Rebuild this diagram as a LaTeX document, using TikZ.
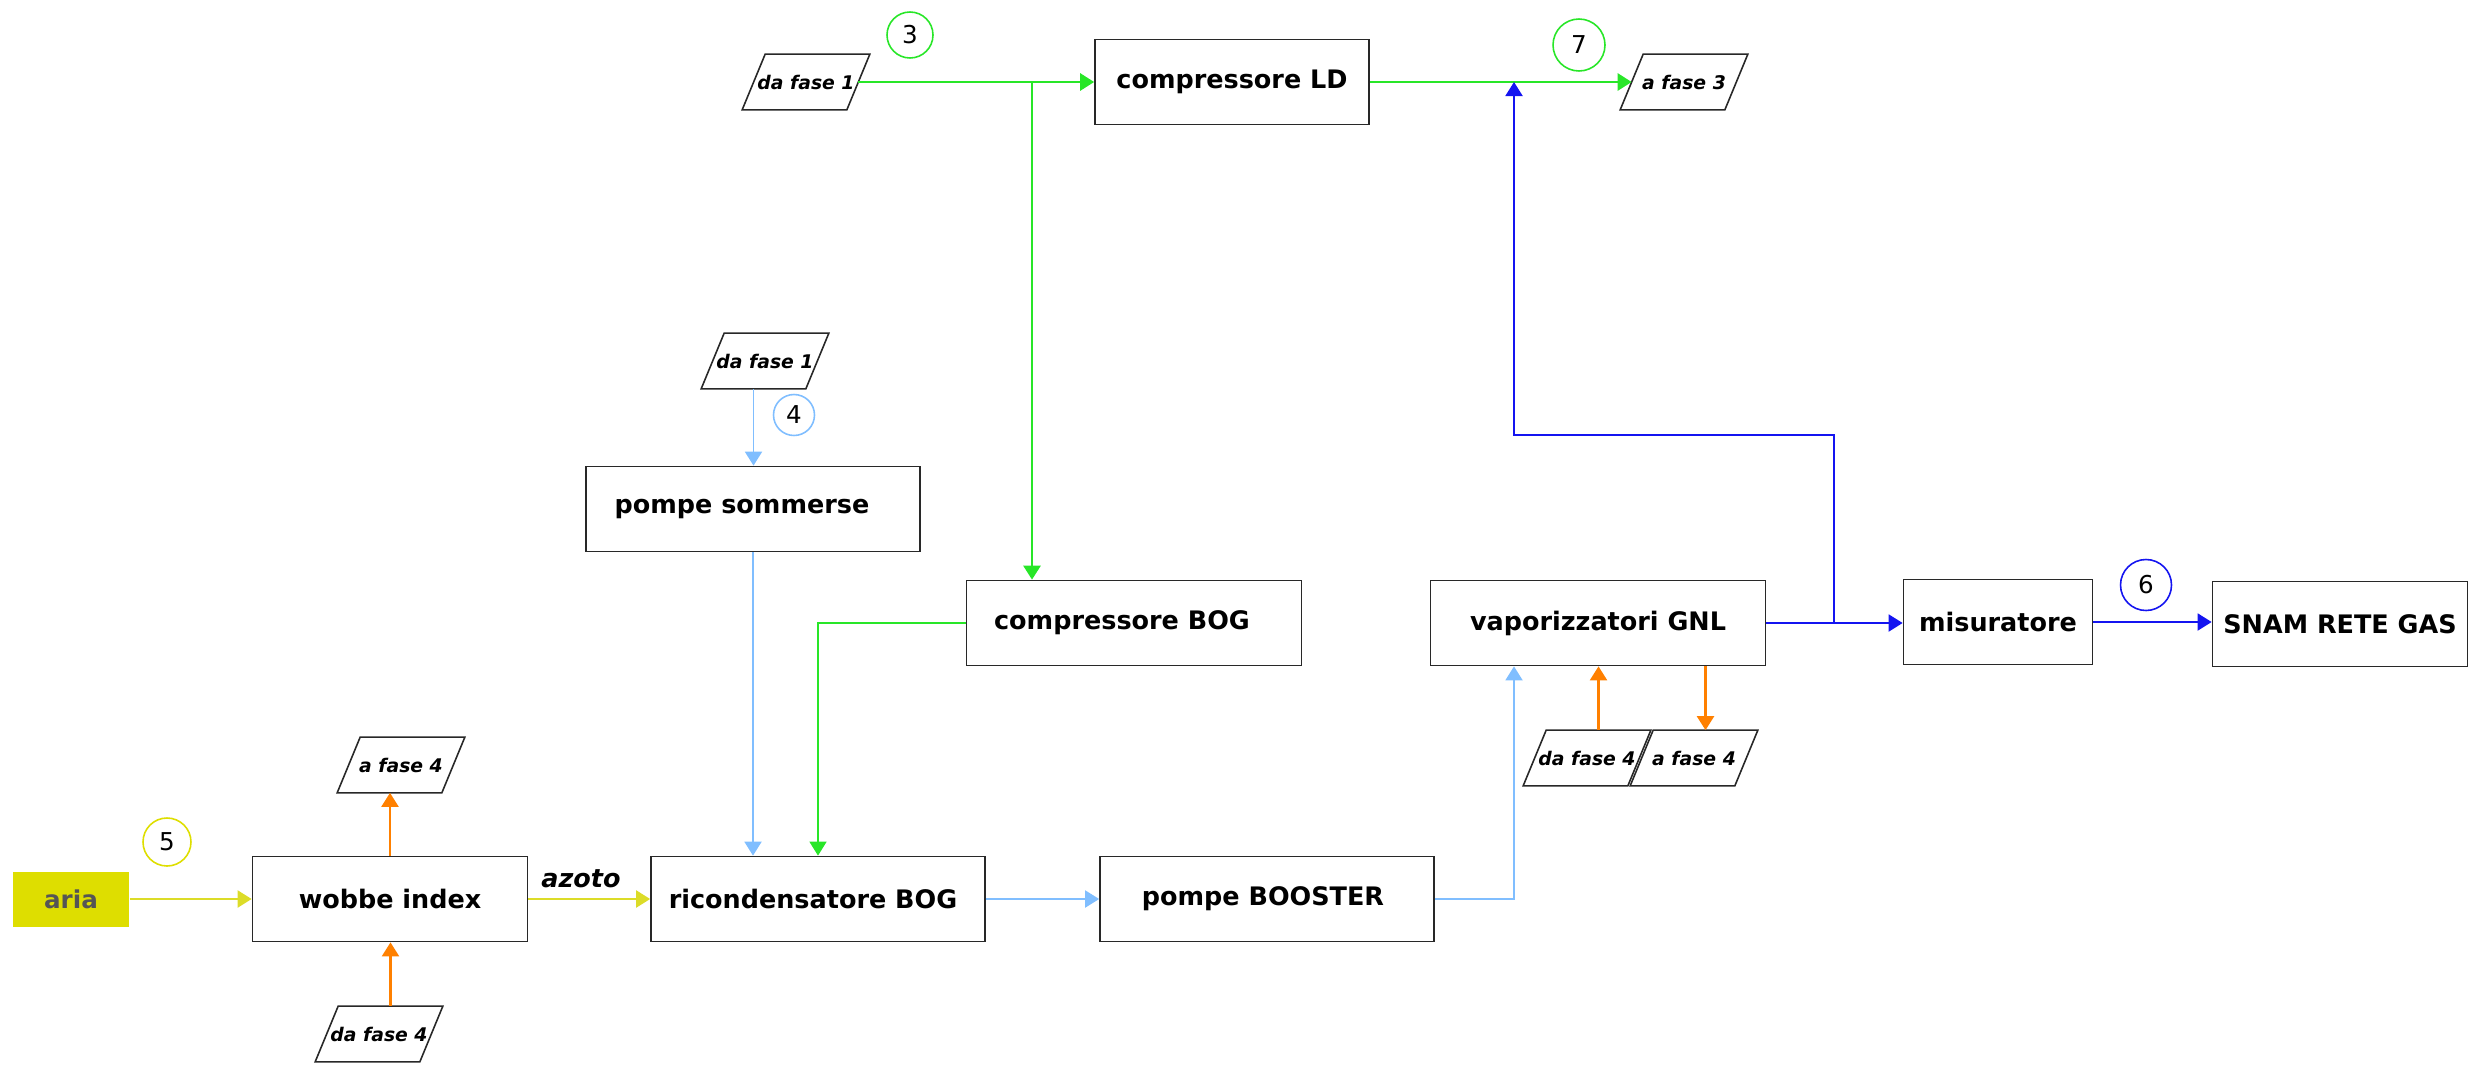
\documentclass[tikz,border=0pt]{standalone}
\usepackage{fontspec}
\setmainfont{DejaVu Sans}
\usetikzlibrary{arrows.meta}
\definecolor{boxc}{RGB}{40,40,40}
\definecolor{lgreen}{RGB}{40,230,40}
\definecolor{lblue}{RGB}{128,190,255}
\definecolor{dblue}{RGB}{20,20,240}
\definecolor{orng}{RGB}{255,128,0}
\definecolor{yel}{RGB}{222,222,0}
\definecolor{yline}{RGB}{220,220,40}
\definecolor{ariatext}{RGB}{85,85,85}
% move a label to the left inside its block by half of the given length
\newcommand{\leftnudge}[2]{\hspace*{-#1}#2}
\begin{document}
\begin{tikzpicture}[x=0.02cm,y=-0.02cm,
  box/.style={draw=boxc, line width=1pt, minimum height=1.7cm, inner sep=0pt,
    font=\bfseries\fontsize{14.5}{17}\selectfont},
  % slanted input/output block: the node is the body, the outline is sheared
  pgram/.style={minimum width=2.08cm, minimum height=1.1cm, inner sep=0pt,
    font=\bfseries\itshape\fontsize{10.7}{12}\selectfont,
    append after command={\pgfextra{\draw[draw=boxc, line width=0.9pt]
      ([xshift=-0.23cm]\tikzlastnode.south west) --
      ([xshift=0.23cm]\tikzlastnode.north west) --
      ([xshift=0.23cm]\tikzlastnode.north east) --
      ([xshift=-0.23cm]\tikzlastnode.south east) -- cycle;}}},
  num/.style={circle, line width=0.9pt, inner sep=0pt,
    font=\fontsize{14}{16}\selectfont},
  tip/.style={-{Triangle[length=0.28cm,width=0.34cm]}},
  gflow/.style={draw=lgreen, line width=1.6pt},
  gthin/.style={draw=lgreen, line width=0.85pt},
  lbflow/.style={draw=lblue, line width=1.1pt},
  bflow/.style={draw=dblue, line width=1.1pt},
  oflow/.style={draw=orng, line width=1.3pt},
  yflow/.style={draw=yline, line width=1.2pt}]
\useasboundingbox (0,0) rectangle (2478,1072);

% process blocks
\node[box, minimum width=5.48cm] (ld)   at (1232,82)  {compressore LD};
\node[box, minimum width=6.68cm] (somm) at (753,509)  {\leftnudge{0.44cm}{pompe sommerse}};
\node[box, minimum width=6.70cm] (cbog) at (1134,623) {\leftnudge{0.48cm}{compressore BOG}};
\node[box, minimum width=6.70cm] (vap)  at (1598,623) {vaporizzatori GNL};
\node[box, minimum width=3.78cm] (mis)  at (1998,622) {misuratore};
\node[box, minimum width=5.10cm] (snam) at (2340,624) {SNAM RETE GAS};
\node[box, minimum width=5.50cm] (wob)  at (390,899)  {wobbe index};
\node[box, minimum width=6.68cm] (ric)  at (818,899)  {\leftnudge{0.2cm}{ricondensatore BOG}};
\node[box, minimum width=6.68cm] (boo)  at (1267,899) {\leftnudge{0.16cm}{pompe BOOSTER}};
\node[fill=yel, minimum width=2.34cm, minimum height=1.1cm, inner sep=0pt,
  text=ariatext, font=\bfseries\fontsize{14}{16}\selectfont] (aria) at (71,899) {aria};

% inputs and outputs of the other phases
\node[pgram] (pa) at (806,82)   {da fase 1};
\node[pgram] (pb) at (1684,82)  {a fase 3};
\node[pgram] (pc) at (765,361)  {da fase 1};
\node[pgram] (pd) at (401,765)  {a fase 4};
\node[pgram] (pe) at (379,1034) {da fase 4};
\node[pgram] (pf) at (1587,758) {da fase 4};
\node[pgram] (pg) at (1694,758) {a fase 4};

% stream numbers
\node[num, draw=lgreen, minimum size=0.92cm] (n3) at (910,35)   {3};
\node[num, draw=lgreen, minimum size=1.04cm] (n7) at (1579,45)  {7};
\node[num, draw=lblue,  minimum size=0.82cm] (n4) at (794,415)  {4};
\node[num, draw=yel,    minimum size=0.96cm] (n5) at (167,842)  {5};
\node[num, draw=dblue,  minimum size=1.02cm] (n6) at (2146,585) {6};

% branch points
\coordinate (gs)   at (1032,82);
\coordinate (xcol) at (1514,435);
\coordinate (bs)   at (1834,623);

% boil-off gas lines
\draw[gflow, tip] (pa.east) -- (ld.west);
\draw[gflow, tip] (gs) -- (gs |- cbog.north);
\draw[gflow, tip] (ld.east) -- (pb.west);
\draw[gthin, tip] (cbog.west) -| (ric.north);

% LNG lines
\draw[lbflow, tip] ([xshift=-0.23cm]pc.south) -- ([xshift=-0.23cm]pc.south |- somm.north);
\draw[lbflow, tip] (somm.south) -- (somm.south |- ric.north);
\draw[lbflow, tip] (ric.east) -- (boo.west);
\draw[lbflow, tip] (boo.east) -| (xcol |- vap.south);

% natural gas lines
\draw[bflow, tip] (vap.east) -- (vap.east -| mis.west);
\draw[bflow, tip] (bs) |- (xcol) -- (xcol |- ld.east);
\draw[bflow, tip] (mis.east) -- (mis.east -| snam.west);

% water lines
\draw[oflow, tip] (wob.north) -- (wob.north |- pd.south);
\draw[oflow, tip] ([xshift=0.23cm]pe.north) -- ([xshift=0.23cm]pe.north |- wob.south);
\draw[oflow, tip] ([xshift=0.23cm]pf.north) -- ([xshift=0.23cm]pf.north |- vap.south);
\draw[oflow, tip] ([xshift=0.23cm]pg.north |- vap.south) -- ([xshift=0.23cm]pg.north);

% air and nitrogen
\draw[yflow, tip] (aria.east) -- (wob.west);
\draw[yflow, tip] (wob.east) -- (ric.west);
\node[anchor=base, inner sep=0pt, font=\bfseries\itshape\fontsize{14.5}{17}\selectfont] (az) at (581,887) {azoto};
\end{tikzpicture}
\end{document}
